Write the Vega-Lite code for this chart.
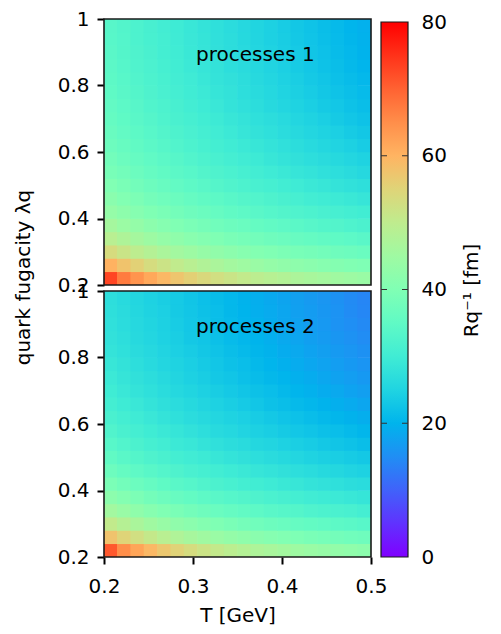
{
"$schema":"https://vega.github.io/schema/vega-lite/v6.json",
"background":"white",
"padding":{"left":13,"top":9,"right":5,"bottom":5},
"config":{
 "font":"DejaVu Sans",
 "view":{"stroke":null},
 "axis":{"labelFont":"DejaVu Sans","labelFontSize":20,"labelColor":"black","titleFont":"DejaVu Sans","titleFontSize":20,"titleFontWeight":"normal","titleColor":"black","tickColor":"black","tickWidth":2,"tickSize":7,"domain":false,"grid":false,"labelPadding":8,"labelFlush":false,"labelOverlap":false,"labelBound":false},
 "text":{"font":"DejaVu Sans"}
},
"datasets":{
"p1":[
{"t":0.2075,"l":0.22,"r":73.0},{"t":0.2225,"l":0.22,"r":67.2},{"t":0.2375,"l":0.22,"r":64.2},{"t":0.2525,"l":0.22,"r":61.6},{"t":0.2675,"l":0.22,"r":59.3},{"t":0.2825,"l":0.22,"r":57.3},{"t":0.2975,"l":0.22,"r":55.6},{"t":0.3125,"l":0.22,"r":54.1},{"t":0.3275,"l":0.22,"r":52.8},{"t":0.3425,"l":0.22,"r":51.6},{"t":0.3575,"l":0.22,"r":50.5},{"t":0.3725,"l":0.22,"r":49.5},{"t":0.3875,"l":0.22,"r":48.7},{"t":0.4025,"l":0.22,"r":47.9},{"t":0.4175,"l":0.22,"r":47.1},{"t":0.4325,"l":0.22,"r":46.4},{"t":0.4475,"l":0.22,"r":45.8},{"t":0.4625,"l":0.22,"r":45.2},{"t":0.4775,"l":0.22,"r":44.6},{"t":0.4925,"l":0.22,"r":44.1},
{"t":0.2075,"l":0.26,"r":60.3},{"t":0.2225,"l":0.26,"r":57.7},{"t":0.2375,"l":0.26,"r":55.5},{"t":0.2525,"l":0.26,"r":53.4},{"t":0.2675,"l":0.26,"r":51.8},{"t":0.2825,"l":0.26,"r":50.3},{"t":0.2975,"l":0.26,"r":49.0},{"t":0.3125,"l":0.26,"r":47.8},{"t":0.3275,"l":0.26,"r":46.8},{"t":0.3425,"l":0.26,"r":45.8},{"t":0.3575,"l":0.26,"r":45.0},{"t":0.3725,"l":0.26,"r":44.2},{"t":0.3875,"l":0.26,"r":43.4},{"t":0.4025,"l":0.26,"r":42.8},{"t":0.4175,"l":0.26,"r":42.3},{"t":0.4325,"l":0.26,"r":41.7},{"t":0.4475,"l":0.26,"r":41.1},{"t":0.4625,"l":0.26,"r":40.7},{"t":0.4775,"l":0.26,"r":40.2},{"t":0.4925,"l":0.26,"r":39.8},
{"t":0.2075,"l":0.30,"r":53.6},{"t":0.2225,"l":0.30,"r":51.6},{"t":0.2375,"l":0.30,"r":49.7},{"t":0.2525,"l":0.30,"r":48.3},{"t":0.2675,"l":0.30,"r":46.8},{"t":0.2825,"l":0.30,"r":45.6},{"t":0.2975,"l":0.30,"r":44.7},{"t":0.3125,"l":0.30,"r":43.6},{"t":0.3275,"l":0.30,"r":42.8},{"t":0.3425,"l":0.30,"r":42.0},{"t":0.3575,"l":0.30,"r":41.2},{"t":0.3725,"l":0.30,"r":40.5},{"t":0.3875,"l":0.30,"r":40.0},{"t":0.4025,"l":0.30,"r":39.3},{"t":0.4175,"l":0.30,"r":38.8},{"t":0.4325,"l":0.30,"r":38.4},{"t":0.4475,"l":0.30,"r":37.9},{"t":0.4625,"l":0.30,"r":37.4},{"t":0.4775,"l":0.30,"r":37.0},{"t":0.4925,"l":0.30,"r":36.6},
{"t":0.2075,"l":0.34,"r":49.1},{"t":0.2225,"l":0.34,"r":47.4},{"t":0.2375,"l":0.34,"r":45.9},{"t":0.2525,"l":0.34,"r":44.6},{"t":0.2675,"l":0.34,"r":43.4},{"t":0.2825,"l":0.34,"r":42.4},{"t":0.2975,"l":0.34,"r":41.5},{"t":0.3125,"l":0.34,"r":40.6},{"t":0.3275,"l":0.34,"r":39.9},{"t":0.3425,"l":0.34,"r":39.1},{"t":0.3575,"l":0.34,"r":38.5},{"t":0.3725,"l":0.34,"r":38.0},{"t":0.3875,"l":0.34,"r":37.3},{"t":0.4025,"l":0.34,"r":36.8},{"t":0.4175,"l":0.34,"r":36.3},{"t":0.4325,"l":0.34,"r":35.8},{"t":0.4475,"l":0.34,"r":35.3},{"t":0.4625,"l":0.34,"r":34.9},{"t":0.4775,"l":0.34,"r":34.5},{"t":0.4925,"l":0.34,"r":34.0},
{"t":0.2075,"l":0.38,"r":45.9},{"t":0.2225,"l":0.38,"r":44.4},{"t":0.2375,"l":0.38,"r":43.2},{"t":0.2525,"l":0.38,"r":41.9},{"t":0.2675,"l":0.38,"r":40.9},{"t":0.2825,"l":0.38,"r":40.0},{"t":0.2975,"l":0.38,"r":39.2},{"t":0.3125,"l":0.38,"r":38.4},{"t":0.3275,"l":0.38,"r":37.6},{"t":0.3425,"l":0.38,"r":37.0},{"t":0.3575,"l":0.38,"r":36.5},{"t":0.3725,"l":0.38,"r":35.8},{"t":0.3875,"l":0.38,"r":35.3},{"t":0.4025,"l":0.38,"r":34.8},{"t":0.4175,"l":0.38,"r":34.2},{"t":0.4325,"l":0.38,"r":33.7},{"t":0.4475,"l":0.38,"r":33.2},{"t":0.4625,"l":0.38,"r":32.9},{"t":0.4775,"l":0.38,"r":32.4},{"t":0.4925,"l":0.38,"r":31.9},
{"t":0.2075,"l":0.42,"r":43.4},{"t":0.2225,"l":0.42,"r":42.1},{"t":0.2375,"l":0.42,"r":40.9},{"t":0.2525,"l":0.42,"r":39.9},{"t":0.2675,"l":0.42,"r":39.0},{"t":0.2825,"l":0.42,"r":38.1},{"t":0.2975,"l":0.42,"r":37.4},{"t":0.3125,"l":0.42,"r":36.7},{"t":0.3275,"l":0.42,"r":35.9},{"t":0.3425,"l":0.42,"r":35.2},{"t":0.3575,"l":0.42,"r":34.7},{"t":0.3725,"l":0.42,"r":34.1},{"t":0.3875,"l":0.42,"r":33.5},{"t":0.4025,"l":0.42,"r":32.9},{"t":0.4175,"l":0.42,"r":32.5},{"t":0.4325,"l":0.42,"r":32.0},{"t":0.4475,"l":0.42,"r":31.5},{"t":0.4625,"l":0.42,"r":31.1},{"t":0.4775,"l":0.42,"r":30.6},{"t":0.4925,"l":0.42,"r":30.2},
{"t":0.2075,"l":0.46,"r":41.6},{"t":0.2225,"l":0.46,"r":40.4},{"t":0.2375,"l":0.46,"r":39.3},{"t":0.2525,"l":0.46,"r":38.3},{"t":0.2675,"l":0.46,"r":37.5},{"t":0.2825,"l":0.46,"r":36.7},{"t":0.2975,"l":0.46,"r":35.9},{"t":0.3125,"l":0.46,"r":35.2},{"t":0.3275,"l":0.46,"r":34.6},{"t":0.3425,"l":0.46,"r":33.9},{"t":0.3575,"l":0.46,"r":33.3},{"t":0.3725,"l":0.46,"r":32.8},{"t":0.3875,"l":0.46,"r":32.2},{"t":0.4025,"l":0.46,"r":31.6},{"t":0.4175,"l":0.46,"r":31.1},{"t":0.4325,"l":0.46,"r":30.5},{"t":0.4475,"l":0.46,"r":30.0},{"t":0.4625,"l":0.46,"r":29.6},{"t":0.4775,"l":0.46,"r":29.1},{"t":0.4925,"l":0.46,"r":28.6},
{"t":0.2075,"l":0.50,"r":40.1},{"t":0.2225,"l":0.50,"r":39.0},{"t":0.2375,"l":0.50,"r":38.0},{"t":0.2525,"l":0.50,"r":37.1},{"t":0.2675,"l":0.50,"r":36.3},{"t":0.2825,"l":0.50,"r":35.4},{"t":0.2975,"l":0.50,"r":34.7},{"t":0.3125,"l":0.50,"r":34.0},{"t":0.3275,"l":0.50,"r":33.3},{"t":0.3425,"l":0.50,"r":32.6},{"t":0.3575,"l":0.50,"r":32.0},{"t":0.3725,"l":0.50,"r":31.4},{"t":0.3875,"l":0.50,"r":30.9},{"t":0.4025,"l":0.50,"r":30.3},{"t":0.4175,"l":0.50,"r":29.8},{"t":0.4325,"l":0.50,"r":29.2},{"t":0.4475,"l":0.50,"r":28.7},{"t":0.4625,"l":0.50,"r":28.2},{"t":0.4775,"l":0.50,"r":27.7},{"t":0.4925,"l":0.50,"r":27.2},
{"t":0.2075,"l":0.54,"r":38.8},{"t":0.2225,"l":0.54,"r":37.9},{"t":0.2375,"l":0.54,"r":36.9},{"t":0.2525,"l":0.54,"r":36.0},{"t":0.2675,"l":0.54,"r":35.2},{"t":0.2825,"l":0.54,"r":34.4},{"t":0.2975,"l":0.54,"r":33.8},{"t":0.3125,"l":0.54,"r":33.0},{"t":0.3275,"l":0.54,"r":32.3},{"t":0.3425,"l":0.54,"r":31.7},{"t":0.3575,"l":0.54,"r":31.1},{"t":0.3725,"l":0.54,"r":30.4},{"t":0.3875,"l":0.54,"r":29.8},{"t":0.4025,"l":0.54,"r":29.2},{"t":0.4175,"l":0.54,"r":28.6},{"t":0.4325,"l":0.54,"r":28.1},{"t":0.4475,"l":0.54,"r":27.5},{"t":0.4625,"l":0.54,"r":27.0},{"t":0.4775,"l":0.54,"r":26.5},{"t":0.4925,"l":0.54,"r":25.9},
{"t":0.2075,"l":0.58,"r":37.9},{"t":0.2225,"l":0.58,"r":36.9},{"t":0.2375,"l":0.58,"r":36.0},{"t":0.2525,"l":0.58,"r":35.1},{"t":0.2675,"l":0.58,"r":34.3},{"t":0.2825,"l":0.58,"r":33.6},{"t":0.2975,"l":0.58,"r":32.8},{"t":0.3125,"l":0.58,"r":32.1},{"t":0.3275,"l":0.58,"r":31.4},{"t":0.3425,"l":0.58,"r":30.8},{"t":0.3575,"l":0.58,"r":30.1},{"t":0.3725,"l":0.58,"r":29.5},{"t":0.3875,"l":0.58,"r":28.8},{"t":0.4025,"l":0.58,"r":28.2},{"t":0.4175,"l":0.58,"r":27.6},{"t":0.4325,"l":0.58,"r":27.1},{"t":0.4475,"l":0.58,"r":26.5},{"t":0.4625,"l":0.58,"r":26.0},{"t":0.4775,"l":0.58,"r":25.4},{"t":0.4925,"l":0.58,"r":24.9},
{"t":0.2075,"l":0.62,"r":37.1},{"t":0.2225,"l":0.62,"r":36.1},{"t":0.2375,"l":0.62,"r":35.2},{"t":0.2525,"l":0.62,"r":34.4},{"t":0.2675,"l":0.62,"r":33.6},{"t":0.2825,"l":0.62,"r":32.8},{"t":0.2975,"l":0.62,"r":32.1},{"t":0.3125,"l":0.62,"r":31.3},{"t":0.3275,"l":0.62,"r":30.7},{"t":0.3425,"l":0.62,"r":30.0},{"t":0.3575,"l":0.62,"r":29.4},{"t":0.3725,"l":0.62,"r":28.8},{"t":0.3875,"l":0.62,"r":28.2},{"t":0.4025,"l":0.62,"r":27.5},{"t":0.4175,"l":0.62,"r":26.9},{"t":0.4325,"l":0.62,"r":26.3},{"t":0.4475,"l":0.62,"r":25.7},{"t":0.4625,"l":0.62,"r":25.1},{"t":0.4775,"l":0.62,"r":24.5},{"t":0.4925,"l":0.62,"r":23.8},
{"t":0.2075,"l":0.66,"r":36.4},{"t":0.2225,"l":0.66,"r":35.4},{"t":0.2375,"l":0.66,"r":34.6},{"t":0.2525,"l":0.66,"r":33.8},{"t":0.2675,"l":0.66,"r":33.0},{"t":0.2825,"l":0.66,"r":32.2},{"t":0.2975,"l":0.66,"r":31.5},{"t":0.3125,"l":0.66,"r":30.8},{"t":0.3275,"l":0.66,"r":30.1},{"t":0.3425,"l":0.66,"r":29.3},{"t":0.3575,"l":0.66,"r":28.6},{"t":0.3725,"l":0.66,"r":28.0},{"t":0.3875,"l":0.66,"r":27.4},{"t":0.4025,"l":0.66,"r":26.7},{"t":0.4175,"l":0.66,"r":26.1},{"t":0.4325,"l":0.66,"r":25.5},{"t":0.4475,"l":0.66,"r":24.9},{"t":0.4625,"l":0.66,"r":24.3},{"t":0.4775,"l":0.66,"r":23.6},{"t":0.4925,"l":0.66,"r":23.0},
{"t":0.2075,"l":0.70,"r":35.8},{"t":0.2225,"l":0.70,"r":34.9},{"t":0.2375,"l":0.70,"r":34.1},{"t":0.2525,"l":0.70,"r":33.3},{"t":0.2675,"l":0.70,"r":32.4},{"t":0.2825,"l":0.70,"r":31.6},{"t":0.2975,"l":0.70,"r":30.9},{"t":0.3125,"l":0.70,"r":30.2},{"t":0.3275,"l":0.70,"r":29.5},{"t":0.3425,"l":0.70,"r":28.8},{"t":0.3575,"l":0.70,"r":28.1},{"t":0.3725,"l":0.70,"r":27.4},{"t":0.3875,"l":0.70,"r":26.8},{"t":0.4025,"l":0.70,"r":26.2},{"t":0.4175,"l":0.70,"r":25.4},{"t":0.4325,"l":0.70,"r":24.8},{"t":0.4475,"l":0.70,"r":24.2},{"t":0.4625,"l":0.70,"r":23.5},{"t":0.4775,"l":0.70,"r":22.8},{"t":0.4925,"l":0.70,"r":22.2},
{"t":0.2075,"l":0.74,"r":35.4},{"t":0.2225,"l":0.74,"r":34.5},{"t":0.2375,"l":0.74,"r":33.7},{"t":0.2525,"l":0.74,"r":32.7},{"t":0.2675,"l":0.74,"r":32.0},{"t":0.2825,"l":0.74,"r":31.2},{"t":0.2975,"l":0.74,"r":30.4},{"t":0.3125,"l":0.74,"r":29.7},{"t":0.3275,"l":0.74,"r":29.0},{"t":0.3425,"l":0.74,"r":28.2},{"t":0.3575,"l":0.74,"r":27.5},{"t":0.3725,"l":0.74,"r":26.9},{"t":0.3875,"l":0.74,"r":26.1},{"t":0.4025,"l":0.74,"r":25.5},{"t":0.4175,"l":0.74,"r":24.9},{"t":0.4325,"l":0.74,"r":24.2},{"t":0.4475,"l":0.74,"r":23.5},{"t":0.4625,"l":0.74,"r":22.9},{"t":0.4775,"l":0.74,"r":22.2},{"t":0.4925,"l":0.74,"r":21.6},
{"t":0.2075,"l":0.78,"r":34.9},{"t":0.2225,"l":0.78,"r":34.1},{"t":0.2375,"l":0.78,"r":33.2},{"t":0.2525,"l":0.78,"r":32.3},{"t":0.2675,"l":0.78,"r":31.5},{"t":0.2825,"l":0.78,"r":30.8},{"t":0.2975,"l":0.78,"r":30.0},{"t":0.3125,"l":0.78,"r":29.3},{"t":0.3275,"l":0.78,"r":28.5},{"t":0.3425,"l":0.78,"r":27.9},{"t":0.3575,"l":0.78,"r":27.1},{"t":0.3725,"l":0.78,"r":26.4},{"t":0.3875,"l":0.78,"r":25.8},{"t":0.4025,"l":0.78,"r":25.0},{"t":0.4175,"l":0.78,"r":24.4},{"t":0.4325,"l":0.78,"r":23.8},{"t":0.4475,"l":0.78,"r":23.0},{"t":0.4625,"l":0.78,"r":22.4},{"t":0.4775,"l":0.78,"r":21.7},{"t":0.4925,"l":0.78,"r":21.1},
{"t":0.2075,"l":0.82,"r":34.6},{"t":0.2225,"l":0.82,"r":33.8},{"t":0.2375,"l":0.82,"r":32.8},{"t":0.2525,"l":0.82,"r":32.1},{"t":0.2675,"l":0.82,"r":31.3},{"t":0.2825,"l":0.82,"r":30.4},{"t":0.2975,"l":0.82,"r":29.8},{"t":0.3125,"l":0.82,"r":28.9},{"t":0.3275,"l":0.82,"r":28.2},{"t":0.3425,"l":0.82,"r":27.6},{"t":0.3575,"l":0.82,"r":26.8},{"t":0.3725,"l":0.82,"r":26.1},{"t":0.3875,"l":0.82,"r":25.4},{"t":0.4025,"l":0.82,"r":24.7},{"t":0.4175,"l":0.82,"r":24.0},{"t":0.4325,"l":0.82,"r":23.3},{"t":0.4475,"l":0.82,"r":22.7},{"t":0.4625,"l":0.82,"r":21.9},{"t":0.4775,"l":0.82,"r":21.3},{"t":0.4925,"l":0.82,"r":20.6},
{"t":0.2075,"l":0.86,"r":34.3},{"t":0.2225,"l":0.86,"r":33.5},{"t":0.2375,"l":0.86,"r":32.5},{"t":0.2525,"l":0.86,"r":31.8},{"t":0.2675,"l":0.86,"r":31.0},{"t":0.2825,"l":0.86,"r":30.2},{"t":0.2975,"l":0.86,"r":29.4},{"t":0.3125,"l":0.86,"r":28.6},{"t":0.3275,"l":0.86,"r":27.9},{"t":0.3425,"l":0.86,"r":27.1},{"t":0.3575,"l":0.86,"r":26.5},{"t":0.3725,"l":0.86,"r":25.8},{"t":0.3875,"l":0.86,"r":25.1},{"t":0.4025,"l":0.86,"r":24.3},{"t":0.4175,"l":0.86,"r":23.6},{"t":0.4325,"l":0.86,"r":22.9},{"t":0.4475,"l":0.86,"r":22.2},{"t":0.4625,"l":0.86,"r":21.6},{"t":0.4775,"l":0.86,"r":20.8},{"t":0.4925,"l":0.86,"r":20.2},
{"t":0.2075,"l":0.90,"r":34.0},{"t":0.2225,"l":0.90,"r":33.2},{"t":0.2375,"l":0.90,"r":32.3},{"t":0.2525,"l":0.90,"r":31.6},{"t":0.2675,"l":0.90,"r":30.7},{"t":0.2825,"l":0.90,"r":30.0},{"t":0.2975,"l":0.90,"r":29.1},{"t":0.3125,"l":0.90,"r":28.4},{"t":0.3275,"l":0.90,"r":27.6},{"t":0.3425,"l":0.90,"r":26.9},{"t":0.3575,"l":0.90,"r":26.2},{"t":0.3725,"l":0.90,"r":25.5},{"t":0.3875,"l":0.90,"r":24.8},{"t":0.4025,"l":0.90,"r":24.0},{"t":0.4175,"l":0.90,"r":23.4},{"t":0.4325,"l":0.90,"r":22.6},{"t":0.4475,"l":0.90,"r":22.0},{"t":0.4625,"l":0.90,"r":21.2},{"t":0.4775,"l":0.90,"r":20.6},{"t":0.4925,"l":0.90,"r":19.9},
{"t":0.2075,"l":0.94,"r":33.8},{"t":0.2225,"l":0.94,"r":33.1},{"t":0.2375,"l":0.94,"r":32.1},{"t":0.2525,"l":0.94,"r":31.3},{"t":0.2675,"l":0.94,"r":30.6},{"t":0.2825,"l":0.94,"r":29.8},{"t":0.2975,"l":0.94,"r":29.0},{"t":0.3125,"l":0.94,"r":28.3},{"t":0.3275,"l":0.94,"r":27.5},{"t":0.3425,"l":0.94,"r":26.8},{"t":0.3575,"l":0.94,"r":26.0},{"t":0.3725,"l":0.94,"r":25.3},{"t":0.3875,"l":0.94,"r":24.6},{"t":0.4025,"l":0.94,"r":23.9},{"t":0.4175,"l":0.94,"r":23.1},{"t":0.4325,"l":0.94,"r":22.5},{"t":0.4475,"l":0.94,"r":21.7},{"t":0.4625,"l":0.94,"r":21.1},{"t":0.4775,"l":0.94,"r":20.3},{"t":0.4925,"l":0.94,"r":19.7},
{"t":0.2075,"l":0.98,"r":33.7},{"t":0.2225,"l":0.98,"r":32.9},{"t":0.2375,"l":0.98,"r":32.0},{"t":0.2525,"l":0.98,"r":31.2},{"t":0.2675,"l":0.98,"r":30.4},{"t":0.2825,"l":0.98,"r":29.7},{"t":0.2975,"l":0.98,"r":28.9},{"t":0.3125,"l":0.98,"r":28.2},{"t":0.3275,"l":0.98,"r":27.4},{"t":0.3425,"l":0.98,"r":26.7},{"t":0.3575,"l":0.98,"r":25.9},{"t":0.3725,"l":0.98,"r":25.2},{"t":0.3875,"l":0.98,"r":24.5},{"t":0.4025,"l":0.98,"r":23.8},{"t":0.4175,"l":0.98,"r":23.0},{"t":0.4325,"l":0.98,"r":22.4},{"t":0.4475,"l":0.98,"r":21.6},{"t":0.4625,"l":0.98,"r":21.0},{"t":0.4775,"l":0.98,"r":20.2},{"t":0.4925,"l":0.98,"r":19.6}
],
"p2":[
{"t":0.2075,"l":0.22,"r":71.0},{"t":0.2225,"l":0.22,"r":65.0},{"t":0.2375,"l":0.22,"r":62.0},{"t":0.2525,"l":0.22,"r":59.4},{"t":0.2675,"l":0.22,"r":57.1},{"t":0.2825,"l":0.22,"r":55.1},{"t":0.2975,"l":0.22,"r":53.4},{"t":0.3125,"l":0.22,"r":51.9},{"t":0.3275,"l":0.22,"r":50.6},{"t":0.3425,"l":0.22,"r":49.4},{"t":0.3575,"l":0.22,"r":48.3},{"t":0.3725,"l":0.22,"r":47.3},{"t":0.3875,"l":0.22,"r":46.5},{"t":0.4025,"l":0.22,"r":45.7},{"t":0.4175,"l":0.22,"r":44.9},{"t":0.4325,"l":0.22,"r":44.2},{"t":0.4475,"l":0.22,"r":43.6},{"t":0.4625,"l":0.22,"r":43.1},{"t":0.4775,"l":0.22,"r":42.5},{"t":0.4925,"l":0.22,"r":42.0},
{"t":0.2075,"l":0.26,"r":57.6},{"t":0.2225,"l":0.26,"r":55.0},{"t":0.2375,"l":0.26,"r":52.8},{"t":0.2525,"l":0.26,"r":50.8},{"t":0.2675,"l":0.26,"r":49.1},{"t":0.2825,"l":0.26,"r":47.6},{"t":0.2975,"l":0.26,"r":46.3},{"t":0.3125,"l":0.26,"r":45.2},{"t":0.3275,"l":0.26,"r":44.2},{"t":0.3425,"l":0.26,"r":43.2},{"t":0.3575,"l":0.26,"r":42.4},{"t":0.3725,"l":0.26,"r":41.6},{"t":0.3875,"l":0.26,"r":40.9},{"t":0.4025,"l":0.26,"r":40.3},{"t":0.4175,"l":0.26,"r":39.7},{"t":0.4325,"l":0.26,"r":39.1},{"t":0.4475,"l":0.26,"r":38.6},{"t":0.4625,"l":0.26,"r":38.2},{"t":0.4775,"l":0.26,"r":37.7},{"t":0.4925,"l":0.26,"r":37.3},
{"t":0.2075,"l":0.30,"r":50.5},{"t":0.2225,"l":0.30,"r":48.5},{"t":0.2375,"l":0.30,"r":46.7},{"t":0.2525,"l":0.30,"r":45.2},{"t":0.2675,"l":0.30,"r":43.8},{"t":0.2825,"l":0.30,"r":42.6},{"t":0.2975,"l":0.30,"r":41.7},{"t":0.3125,"l":0.30,"r":40.7},{"t":0.3275,"l":0.30,"r":39.9},{"t":0.3425,"l":0.30,"r":39.0},{"t":0.3575,"l":0.30,"r":38.3},{"t":0.3725,"l":0.30,"r":37.6},{"t":0.3875,"l":0.30,"r":37.1},{"t":0.4025,"l":0.30,"r":36.5},{"t":0.4175,"l":0.30,"r":35.9},{"t":0.4325,"l":0.30,"r":35.5},{"t":0.4475,"l":0.30,"r":35.1},{"t":0.4625,"l":0.30,"r":34.6},{"t":0.4775,"l":0.30,"r":34.2},{"t":0.4925,"l":0.30,"r":33.8},
{"t":0.2075,"l":0.34,"r":45.6},{"t":0.2225,"l":0.34,"r":44.0},{"t":0.2375,"l":0.34,"r":42.4},{"t":0.2525,"l":0.34,"r":41.2},{"t":0.2675,"l":0.34,"r":40.0},{"t":0.2825,"l":0.34,"r":39.1},{"t":0.2975,"l":0.34,"r":38.1},{"t":0.3125,"l":0.34,"r":37.3},{"t":0.3275,"l":0.34,"r":36.6},{"t":0.3425,"l":0.34,"r":35.9},{"t":0.3575,"l":0.34,"r":35.3},{"t":0.3725,"l":0.34,"r":34.7},{"t":0.3875,"l":0.34,"r":34.1},{"t":0.4025,"l":0.34,"r":33.6},{"t":0.4175,"l":0.34,"r":33.2},{"t":0.4325,"l":0.34,"r":32.5},{"t":0.4475,"l":0.34,"r":32.1},{"t":0.4625,"l":0.34,"r":31.7},{"t":0.4775,"l":0.34,"r":31.4},{"t":0.4925,"l":0.34,"r":30.8},
{"t":0.2075,"l":0.38,"r":42.0},{"t":0.2225,"l":0.38,"r":40.6},{"t":0.2375,"l":0.38,"r":39.3},{"t":0.2525,"l":0.38,"r":38.1},{"t":0.2675,"l":0.38,"r":37.2},{"t":0.2825,"l":0.38,"r":36.2},{"t":0.2975,"l":0.38,"r":35.5},{"t":0.3125,"l":0.38,"r":34.7},{"t":0.3275,"l":0.38,"r":34.0},{"t":0.3425,"l":0.38,"r":33.4},{"t":0.3575,"l":0.38,"r":32.9},{"t":0.3725,"l":0.38,"r":32.3},{"t":0.3875,"l":0.38,"r":31.7},{"t":0.4025,"l":0.38,"r":31.2},{"t":0.4175,"l":0.38,"r":30.7},{"t":0.4325,"l":0.38,"r":30.1},{"t":0.4475,"l":0.38,"r":29.7},{"t":0.4625,"l":0.38,"r":29.4},{"t":0.4775,"l":0.38,"r":28.9},{"t":0.4925,"l":0.38,"r":28.5},
{"t":0.2075,"l":0.42,"r":39.2},{"t":0.2225,"l":0.42,"r":37.9},{"t":0.2375,"l":0.42,"r":36.8},{"t":0.2525,"l":0.42,"r":35.9},{"t":0.2675,"l":0.42,"r":34.9},{"t":0.2825,"l":0.42,"r":34.1},{"t":0.2975,"l":0.42,"r":33.4},{"t":0.3125,"l":0.42,"r":32.6},{"t":0.3275,"l":0.42,"r":31.9},{"t":0.3425,"l":0.42,"r":31.3},{"t":0.3575,"l":0.42,"r":30.7},{"t":0.3725,"l":0.42,"r":30.2},{"t":0.3875,"l":0.42,"r":29.7},{"t":0.4025,"l":0.42,"r":29.1},{"t":0.4175,"l":0.42,"r":28.7},{"t":0.4325,"l":0.42,"r":28.2},{"t":0.4475,"l":0.42,"r":27.8},{"t":0.4625,"l":0.42,"r":27.4},{"t":0.4775,"l":0.42,"r":26.9},{"t":0.4925,"l":0.42,"r":26.6},
{"t":0.2075,"l":0.46,"r":37.0},{"t":0.2225,"l":0.46,"r":35.8},{"t":0.2375,"l":0.46,"r":34.8},{"t":0.2525,"l":0.46,"r":33.9},{"t":0.2675,"l":0.46,"r":33.1},{"t":0.2825,"l":0.46,"r":32.3},{"t":0.2975,"l":0.46,"r":31.5},{"t":0.3125,"l":0.46,"r":30.9},{"t":0.3275,"l":0.46,"r":30.3},{"t":0.3425,"l":0.46,"r":29.7},{"t":0.3575,"l":0.46,"r":29.2},{"t":0.3725,"l":0.46,"r":28.6},{"t":0.3875,"l":0.46,"r":28.1},{"t":0.4025,"l":0.46,"r":27.6},{"t":0.4175,"l":0.46,"r":27.1},{"t":0.4325,"l":0.46,"r":26.6},{"t":0.4475,"l":0.46,"r":26.0},{"t":0.4625,"l":0.46,"r":25.6},{"t":0.4775,"l":0.46,"r":25.1},{"t":0.4925,"l":0.46,"r":24.7},
{"t":0.2075,"l":0.50,"r":35.2},{"t":0.2225,"l":0.50,"r":34.1},{"t":0.2375,"l":0.50,"r":33.2},{"t":0.2525,"l":0.50,"r":32.3},{"t":0.2675,"l":0.50,"r":31.6},{"t":0.2825,"l":0.50,"r":30.7},{"t":0.2975,"l":0.50,"r":30.1},{"t":0.3125,"l":0.50,"r":29.5},{"t":0.3275,"l":0.50,"r":28.8},{"t":0.3425,"l":0.50,"r":28.2},{"t":0.3575,"l":0.50,"r":27.6},{"t":0.3725,"l":0.50,"r":27.1},{"t":0.3875,"l":0.50,"r":26.5},{"t":0.4025,"l":0.50,"r":26.0},{"t":0.4175,"l":0.50,"r":25.4},{"t":0.4325,"l":0.50,"r":24.9},{"t":0.4475,"l":0.50,"r":24.4},{"t":0.4625,"l":0.50,"r":24.0},{"t":0.4775,"l":0.50,"r":23.6},{"t":0.4925,"l":0.50,"r":23.1},
{"t":0.2075,"l":0.54,"r":33.8},{"t":0.2225,"l":0.54,"r":32.8},{"t":0.2375,"l":0.54,"r":31.9},{"t":0.2525,"l":0.54,"r":31.0},{"t":0.2675,"l":0.54,"r":30.3},{"t":0.2825,"l":0.54,"r":29.4},{"t":0.2975,"l":0.54,"r":28.9},{"t":0.3125,"l":0.54,"r":28.1},{"t":0.3275,"l":0.54,"r":27.5},{"t":0.3425,"l":0.54,"r":26.9},{"t":0.3575,"l":0.54,"r":26.4},{"t":0.3725,"l":0.54,"r":25.7},{"t":0.3875,"l":0.54,"r":25.3},{"t":0.4025,"l":0.54,"r":24.7},{"t":0.4175,"l":0.54,"r":24.2},{"t":0.4325,"l":0.54,"r":23.7},{"t":0.4475,"l":0.54,"r":23.2},{"t":0.4625,"l":0.54,"r":22.7},{"t":0.4775,"l":0.54,"r":22.2},{"t":0.4925,"l":0.54,"r":21.6},
{"t":0.2075,"l":0.58,"r":32.6},{"t":0.2225,"l":0.58,"r":31.6},{"t":0.2375,"l":0.58,"r":30.8},{"t":0.2525,"l":0.58,"r":29.9},{"t":0.2675,"l":0.58,"r":29.2},{"t":0.2825,"l":0.58,"r":28.5},{"t":0.2975,"l":0.58,"r":27.8},{"t":0.3125,"l":0.58,"r":27.0},{"t":0.3275,"l":0.58,"r":26.3},{"t":0.3425,"l":0.58,"r":25.8},{"t":0.3575,"l":0.58,"r":25.1},{"t":0.3725,"l":0.58,"r":24.6},{"t":0.3875,"l":0.58,"r":24.0},{"t":0.4025,"l":0.58,"r":23.5},{"t":0.4175,"l":0.58,"r":22.9},{"t":0.4325,"l":0.58,"r":22.5},{"t":0.4475,"l":0.58,"r":21.9},{"t":0.4625,"l":0.58,"r":21.5},{"t":0.4775,"l":0.58,"r":20.9},{"t":0.4925,"l":0.58,"r":20.3},
{"t":0.2075,"l":0.62,"r":31.6},{"t":0.2225,"l":0.62,"r":30.6},{"t":0.2375,"l":0.62,"r":29.8},{"t":0.2525,"l":0.62,"r":29.0},{"t":0.2675,"l":0.62,"r":28.1},{"t":0.2825,"l":0.62,"r":27.4},{"t":0.2975,"l":0.62,"r":26.7},{"t":0.3125,"l":0.62,"r":26.1},{"t":0.3275,"l":0.62,"r":25.5},{"t":0.3425,"l":0.62,"r":24.8},{"t":0.3575,"l":0.62,"r":24.3},{"t":0.3725,"l":0.62,"r":23.7},{"t":0.3875,"l":0.62,"r":23.2},{"t":0.4025,"l":0.62,"r":22.5},{"t":0.4175,"l":0.62,"r":22.0},{"t":0.4325,"l":0.62,"r":21.4},{"t":0.4475,"l":0.62,"r":20.8},{"t":0.4625,"l":0.62,"r":20.3},{"t":0.4775,"l":0.62,"r":19.7},{"t":0.4925,"l":0.62,"r":19.2},
{"t":0.2075,"l":0.66,"r":30.7},{"t":0.2225,"l":0.66,"r":29.7},{"t":0.2375,"l":0.66,"r":29.0},{"t":0.2525,"l":0.66,"r":28.1},{"t":0.2675,"l":0.66,"r":27.3},{"t":0.2825,"l":0.66,"r":26.7},{"t":0.2975,"l":0.66,"r":26.0},{"t":0.3125,"l":0.66,"r":25.3},{"t":0.3275,"l":0.66,"r":24.7},{"t":0.3425,"l":0.66,"r":24.0},{"t":0.3575,"l":0.66,"r":23.4},{"t":0.3725,"l":0.66,"r":22.8},{"t":0.3875,"l":0.66,"r":22.1},{"t":0.4025,"l":0.66,"r":21.6},{"t":0.4175,"l":0.66,"r":21.0},{"t":0.4325,"l":0.66,"r":20.5},{"t":0.4475,"l":0.66,"r":19.9},{"t":0.4625,"l":0.66,"r":19.3},{"t":0.4775,"l":0.66,"r":18.8},{"t":0.4925,"l":0.66,"r":18.2},
{"t":0.2075,"l":0.70,"r":29.9},{"t":0.2225,"l":0.70,"r":29.0},{"t":0.2375,"l":0.70,"r":28.2},{"t":0.2525,"l":0.70,"r":27.4},{"t":0.2675,"l":0.70,"r":26.6},{"t":0.2825,"l":0.70,"r":25.8},{"t":0.2975,"l":0.70,"r":25.2},{"t":0.3125,"l":0.70,"r":24.6},{"t":0.3275,"l":0.70,"r":23.9},{"t":0.3425,"l":0.70,"r":23.3},{"t":0.3575,"l":0.70,"r":22.7},{"t":0.3725,"l":0.70,"r":22.1},{"t":0.3875,"l":0.70,"r":21.5},{"t":0.4025,"l":0.70,"r":20.8},{"t":0.4175,"l":0.70,"r":20.2},{"t":0.4325,"l":0.70,"r":19.6},{"t":0.4475,"l":0.70,"r":19.0},{"t":0.4625,"l":0.70,"r":18.5},{"t":0.4775,"l":0.70,"r":17.8},{"t":0.4925,"l":0.70,"r":17.2},
{"t":0.2075,"l":0.74,"r":29.3},{"t":0.2225,"l":0.74,"r":28.4},{"t":0.2375,"l":0.74,"r":27.6},{"t":0.2525,"l":0.74,"r":26.8},{"t":0.2675,"l":0.74,"r":26.1},{"t":0.2825,"l":0.74,"r":25.3},{"t":0.2975,"l":0.74,"r":24.6},{"t":0.3125,"l":0.74,"r":23.9},{"t":0.3275,"l":0.74,"r":23.2},{"t":0.3425,"l":0.74,"r":22.6},{"t":0.3575,"l":0.74,"r":21.9},{"t":0.3725,"l":0.74,"r":21.3},{"t":0.3875,"l":0.74,"r":20.7},{"t":0.4025,"l":0.74,"r":20.1},{"t":0.4175,"l":0.74,"r":19.5},{"t":0.4325,"l":0.74,"r":19.0},{"t":0.4475,"l":0.74,"r":18.3},{"t":0.4625,"l":0.74,"r":17.6},{"t":0.4775,"l":0.74,"r":17.1},{"t":0.4925,"l":0.74,"r":16.5},
{"t":0.2075,"l":0.78,"r":28.7},{"t":0.2225,"l":0.78,"r":27.9},{"t":0.2375,"l":0.78,"r":27.1},{"t":0.2525,"l":0.78,"r":26.3},{"t":0.2675,"l":0.78,"r":25.5},{"t":0.2825,"l":0.78,"r":24.9},{"t":0.2975,"l":0.78,"r":24.2},{"t":0.3125,"l":0.78,"r":23.5},{"t":0.3275,"l":0.78,"r":22.8},{"t":0.3425,"l":0.78,"r":22.1},{"t":0.3575,"l":0.78,"r":21.5},{"t":0.3725,"l":0.78,"r":20.8},{"t":0.3875,"l":0.78,"r":20.1},{"t":0.4025,"l":0.78,"r":19.5},{"t":0.4175,"l":0.78,"r":18.9},{"t":0.4325,"l":0.78,"r":18.3},{"t":0.4475,"l":0.78,"r":17.7},{"t":0.4625,"l":0.78,"r":17.1},{"t":0.4775,"l":0.78,"r":16.5},{"t":0.4925,"l":0.78,"r":15.9},
{"t":0.2075,"l":0.82,"r":28.2},{"t":0.2225,"l":0.82,"r":27.4},{"t":0.2375,"l":0.82,"r":26.5},{"t":0.2525,"l":0.82,"r":25.9},{"t":0.2675,"l":0.82,"r":25.1},{"t":0.2825,"l":0.82,"r":24.3},{"t":0.2975,"l":0.82,"r":23.7},{"t":0.3125,"l":0.82,"r":23.0},{"t":0.3275,"l":0.82,"r":22.3},{"t":0.3425,"l":0.82,"r":21.6},{"t":0.3575,"l":0.82,"r":21.0},{"t":0.3725,"l":0.82,"r":20.3},{"t":0.3875,"l":0.82,"r":19.7},{"t":0.4025,"l":0.82,"r":19.0},{"t":0.4175,"l":0.82,"r":18.5},{"t":0.4325,"l":0.82,"r":17.8},{"t":0.4475,"l":0.82,"r":17.2},{"t":0.4625,"l":0.82,"r":16.6},{"t":0.4775,"l":0.82,"r":16.0},{"t":0.4925,"l":0.82,"r":15.4},
{"t":0.2075,"l":0.86,"r":27.8},{"t":0.2225,"l":0.86,"r":27.0},{"t":0.2375,"l":0.86,"r":26.1},{"t":0.2525,"l":0.86,"r":25.4},{"t":0.2675,"l":0.86,"r":24.7},{"t":0.2825,"l":0.86,"r":24.0},{"t":0.2975,"l":0.86,"r":23.2},{"t":0.3125,"l":0.86,"r":22.6},{"t":0.3275,"l":0.86,"r":21.9},{"t":0.3425,"l":0.86,"r":21.1},{"t":0.3575,"l":0.86,"r":20.5},{"t":0.3725,"l":0.86,"r":20.0},{"t":0.3875,"l":0.86,"r":19.3},{"t":0.4025,"l":0.86,"r":18.6},{"t":0.4175,"l":0.86,"r":18.0},{"t":0.4325,"l":0.86,"r":17.3},{"t":0.4475,"l":0.86,"r":16.7},{"t":0.4625,"l":0.86,"r":16.1},{"t":0.4775,"l":0.86,"r":15.5},{"t":0.4925,"l":0.86,"r":14.9},
{"t":0.2075,"l":0.90,"r":27.5},{"t":0.2225,"l":0.90,"r":26.7},{"t":0.2375,"l":0.90,"r":25.9},{"t":0.2525,"l":0.90,"r":25.2},{"t":0.2675,"l":0.90,"r":24.5},{"t":0.2825,"l":0.90,"r":23.8},{"t":0.2975,"l":0.90,"r":22.9},{"t":0.3125,"l":0.90,"r":22.3},{"t":0.3275,"l":0.90,"r":21.6},{"t":0.3425,"l":0.90,"r":20.9},{"t":0.3575,"l":0.90,"r":20.2},{"t":0.3725,"l":0.90,"r":19.7},{"t":0.3875,"l":0.90,"r":19.0},{"t":0.4025,"l":0.90,"r":18.2},{"t":0.4175,"l":0.90,"r":17.6},{"t":0.4325,"l":0.90,"r":17.0},{"t":0.4475,"l":0.90,"r":16.4},{"t":0.4625,"l":0.90,"r":15.7},{"t":0.4775,"l":0.90,"r":15.1},{"t":0.4925,"l":0.90,"r":14.6},
{"t":0.2075,"l":0.94,"r":27.2},{"t":0.2225,"l":0.94,"r":26.5},{"t":0.2375,"l":0.94,"r":25.6},{"t":0.2525,"l":0.94,"r":24.8},{"t":0.2675,"l":0.94,"r":24.3},{"t":0.2825,"l":0.94,"r":23.5},{"t":0.2975,"l":0.94,"r":22.8},{"t":0.3125,"l":0.94,"r":22.1},{"t":0.3275,"l":0.94,"r":21.5},{"t":0.3425,"l":0.94,"r":20.7},{"t":0.3575,"l":0.94,"r":20.0},{"t":0.3725,"l":0.94,"r":19.3},{"t":0.3875,"l":0.94,"r":18.8},{"t":0.4025,"l":0.94,"r":18.1},{"t":0.4175,"l":0.94,"r":17.4},{"t":0.4325,"l":0.94,"r":16.8},{"t":0.4475,"l":0.94,"r":16.2},{"t":0.4625,"l":0.94,"r":15.6},{"t":0.4775,"l":0.94,"r":14.8},{"t":0.4925,"l":0.94,"r":14.2},
{"t":0.2075,"l":0.98,"r":27.1},{"t":0.2225,"l":0.98,"r":26.3},{"t":0.2375,"l":0.98,"r":25.5},{"t":0.2525,"l":0.98,"r":24.7},{"t":0.2675,"l":0.98,"r":24.1},{"t":0.2825,"l":0.98,"r":23.4},{"t":0.2975,"l":0.98,"r":22.6},{"t":0.3125,"l":0.98,"r":21.9},{"t":0.3275,"l":0.98,"r":21.3},{"t":0.3425,"l":0.98,"r":20.6},{"t":0.3575,"l":0.98,"r":19.9},{"t":0.3725,"l":0.98,"r":19.2},{"t":0.3875,"l":0.98,"r":18.6},{"t":0.4025,"l":0.98,"r":17.9},{"t":0.4175,"l":0.98,"r":17.2},{"t":0.4325,"l":0.98,"r":16.6},{"t":0.4475,"l":0.98,"r":16.0},{"t":0.4625,"l":0.98,"r":15.4},{"t":0.4775,"l":0.98,"r":14.7},{"t":0.4925,"l":0.98,"r":14.1}
],
"a1":[{"t":0.37,"l":0.874,"s":"processes 1"}],
"a2":[{"t":0.37,"l":0.874,"s":"processes 2"}],
"cb":[{"lo":0,"hi":80}],
"cbt":[{"v":20},{"v":40},{"v":60}]
},
"columns":2,
"bounds":"flush",
"spacing":{"row":6,"column":10},
"concat":[
 {"width":267,"height":266,
  "layer":[
   {"data":{"name":"p1"},"mark":{"type":"rect","width":14,"height":14,"clip":true},
    "encoding":{
     "x":{"field":"t","type":"quantitative","scale":{"domain":[0.2,0.5],"nice":false,"zero":false},"axis":null},
     "y":{"field":"l","type":"quantitative","scale":{"domain":[0.2,1],"nice":false,"zero":false},
          "axis":{"values":[0.2,0.4,0.6,0.8,1],"format":"~g","title":"quark fugacity λq","titleX":-75,"titleY":258,"titleAngle":270,"titleAlign":"center","titleBaseline":"alphabetic"}},
     "color":{"field":"r","type":"quantitative","legend":null,
      "scale":{"domain":[0,5,10,15,20,25,30,35,40,45,50,55,60,65,70,75,80],"range":["#8000ff","#6032fe","#4062fa","#208ef4","#00b4ec","#20d4e1","#40ecd4","#60fac5","#80ffb4","#9ffaa2","#bfec8e","#dfd478","#ffb462","#ff8e4a","#ff6232","#ff3219","#ff0000"],"interpolate":"rgb"}}}},
   {"data":{"name":"a1"},"mark":{"type":"text","fontSize":20,"align":"center","baseline":"alphabetic","color":"black"},
    "encoding":{"x":{"field":"t","type":"quantitative"},"y":{"field":"l","type":"quantitative"},"text":{"field":"s"}}},
   {"data":{"name":"a1"},"mark":{"type":"rect","fill":null,"stroke":"#1a1a1a","strokeWidth":1.6},
    "encoding":{"x":{"datum":0.2},"x2":{"datum":0.5},"y":{"datum":0.2},"y2":{"datum":1}}}
  ]},
 {"width":27,"height":266,
  "layer":[
   {"data":{"name":"cb"},
    "mark":{"type":"rect","stroke":"#1a1a1a","strokeWidth":1.2,
      "fill":{"gradient":"linear","x1":0,"y1":1,"x2":0,"y2":0,"stops":[
       {"offset":0,"color":"#8000ff"},{"offset":0.0625,"color":"#6032fe"},{"offset":0.125,"color":"#4062fa"},{"offset":0.1875,"color":"#208ef4"},{"offset":0.25,"color":"#00b4ec"},{"offset":0.3125,"color":"#20d4e1"},{"offset":0.375,"color":"#40ecd4"},{"offset":0.4375,"color":"#60fac5"},{"offset":0.5,"color":"#80ffb4"},{"offset":0.5625,"color":"#9ffaa2"},{"offset":0.625,"color":"#bfec8e"},{"offset":0.6875,"color":"#dfd478"},{"offset":0.75,"color":"#ffb462"},{"offset":0.8125,"color":"#ff8e4a"},{"offset":0.875,"color":"#ff6232"},{"offset":0.9375,"color":"#ff3219"},{"offset":1,"color":"#ff0000"}]}},
    "encoding":{
     "y":{"field":"lo","type":"quantitative","scale":{"domain":[0,80.449],"range":[538,0],"nice":false,"zero":false},
          "axis":{"orient":"right","values":[0,20,40,60,80],"ticks":false,"tickSize":0,"labelPadding":13,"title":"Rq⁻¹ [fm]","titleAngle":270,"titleX":69,"titleY":271,"titleAlign":"center","titleBaseline":"alphabetic"}},
     "y2":{"field":"hi"}}},
   {"data":{"name":"cbt"},"mark":{"type":"rule","stroke":"#333333","strokeWidth":1,"strokeDash":[6,15]},
    "encoding":{"y":{"field":"v","type":"quantitative"}}}
  ]},
 {"width":267,"height":266,
  "layer":[
   {"data":{"name":"p2"},"mark":{"type":"rect","width":14,"height":14,"clip":true},
    "encoding":{
     "x":{"field":"t","type":"quantitative","scale":{"domain":[0.2,0.5],"nice":false,"zero":false},
          "axis":{"values":[0.2,0.3,0.4,0.5],"format":"~g","title":"T [GeV]","labelPadding":12,"titlePadding":9}},
     "y":{"field":"l","type":"quantitative","scale":{"domain":[0.2,1],"nice":false,"zero":false},
          "axis":{"values":[0.2,0.4,0.6,0.8,1],"format":"~g","title":null}},
     "color":{"field":"r","type":"quantitative","legend":null,
      "scale":{"domain":[0,5,10,15,20,25,30,35,40,45,50,55,60,65,70,75,80],"range":["#8000ff","#6032fe","#4062fa","#208ef4","#00b4ec","#20d4e1","#40ecd4","#60fac5","#80ffb4","#9ffaa2","#bfec8e","#dfd478","#ffb462","#ff8e4a","#ff6232","#ff3219","#ff0000"],"interpolate":"rgb"}}}},
   {"data":{"name":"a2"},"mark":{"type":"text","fontSize":20,"align":"center","baseline":"alphabetic","color":"black"},
    "encoding":{"x":{"field":"t","type":"quantitative"},"y":{"field":"l","type":"quantitative"},"text":{"field":"s"}}},
   {"data":{"name":"a2"},"mark":{"type":"rect","fill":null,"stroke":"#1a1a1a","strokeWidth":1.6},
    "encoding":{"x":{"datum":0.2},"x2":{"datum":0.5},"y":{"datum":0.2},"y2":{"datum":1}}}
  ]}
]
}
